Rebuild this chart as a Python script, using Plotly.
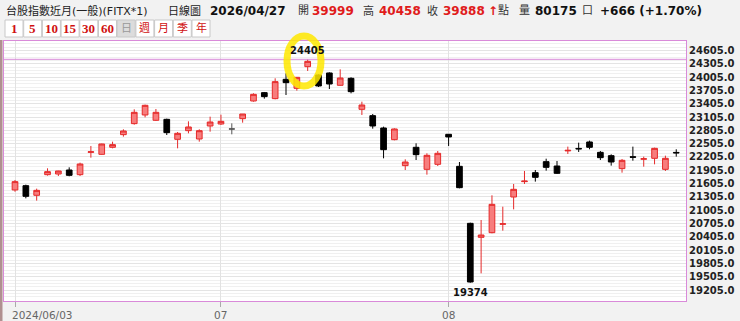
import plotly.graph_objects as go

# ---------------- data ----------------
dates = [
    "2024/06/03", "2024/06/04", "2024/06/05", "2024/06/06", "2024/06/07", "2024/06/11", "2024/06/12",
    "2024/06/13", "2024/06/14", "2024/06/17", "2024/06/18", "2024/06/19", "2024/06/20", "2024/06/21",
    "2024/06/24", "2024/06/25", "2024/06/26", "2024/06/27", "2024/06/28",
    "2024/07/01", "2024/07/02", "2024/07/03", "2024/07/04", "2024/07/05", "2024/07/08", "2024/07/09",
    "2024/07/10", "2024/07/11", "2024/07/12", "2024/07/15", "2024/07/16", "2024/07/17", "2024/07/18",
    "2024/07/19", "2024/07/22", "2024/07/23", "2024/07/26", "2024/07/29", "2024/07/30", "2024/07/31",
    "2024/08/01", "2024/08/02", "2024/08/05", "2024/08/06", "2024/08/07", "2024/08/08", "2024/08/09",
    "2024/08/12", "2024/08/13", "2024/08/14", "2024/08/15", "2024/08/16", "2024/08/19", "2024/08/20",
    "2024/08/21", "2024/08/22", "2024/08/23", "2024/08/26", "2024/08/27", "2024/08/28", "2024/08/29",
    "2024/08/30",
]
opens = [
    21462, 21559, 21342, 21807, 21822, 21912, 21807, 22310, 22265, 22423, 22708, 22956, 23151, 23031,
    23053, 22603, 22798, 22610, 22903,
    22948, 22836, 23068, 23466, 23654, 23519, 23954, 23751, 24239, 24052, 24097, 23819, 23977, 23278,
    23136, 22858, 22595, 22010, 22423, 21927, 22040,
    22716, 21995, 20711, 20396, 20501, 20690, 21304, 21650, 21852, 22100, 22002, 22342, 22398, 22543,
    22310, 22235, 21943, 22210, 22155, 22175, 21927, 22308,
]
highs = [
    21687, 21582, 21492, 21950, 21895, 21972, 22077, 22453, 22505, 22550, 22828, 23278, 23384, 23286,
    23068, 22768, 23008, 22828, 23113,
    23158, 22963, 23173, 23639, 23669, 23977, 24089, 24005, 24405, 24067, 24112, 24179, 23999, 23451,
    23173, 22888, 22851, 22152, 22513, 22288, 22340,
    22720, 22092, 20726, 20786, 21342, 21086, 21597, 21890, 21912, 22167, 22115, 22438, 22528, 22573,
    22340, 22265, 22160, 22438, 22213, 22415, 22235, 22378,
]
lows = [
    21423, 21274, 21222, 21785, 21777, 21770, 21777, 22190, 22258, 22400, 22663, 22933, 23098, 23016,
    22700, 22400, 22738, 22550, 22775,
    22926, 22715, 22978, 23451, 23519, 23504, 23601, 23699, 24142, 23781, 23736, 23812, 23639, 23151,
    22843, 22175, 22580, 21912, 22137, 21807, 22002,
    22453, 21499, 19374, 19585, 20486, 20546, 21026, 21597, 21650, 21897, 21822, 22273, 22318, 22378,
    22137, 22010, 21852, 22122, 21987, 22040, 21890, 22213,
]
closes = [
    21650, 21319, 21454, 21875, 21890, 21792, 22047, 22322, 22498, 22483, 22791, 23211, 23369, 23211,
    22753, 22738, 22881, 22798, 22993,
    23008, 22836, 23173, 23616, 23564, 23902, 23879, 23999, 24359, 23804, 23849, 23984, 23676, 23376,
    22903, 22370, 22836, 22092, 22258, 22243, 22288,
    22656, 21514, 19390, 20448, 21139, 20700, 21477, 21662, 21747, 21972, 21837, 22355, 22388, 22423,
    22190, 22092, 22130, 22200, 22165, 22400, 22175, 22298,
]

x_tick_dates = ["2024/06/03", "2024/07/01", "2024/08/01"]
x_tick_text = ["2024/06/03", "07", "08"]

y_ticks = [19205, 19505, 19805, 20105, 20405, 20705, 21005, 21305, 21605, 21905,
           22205, 22505, 22805, 23105, 23405, 23705, 24005, 24305, 24605]
y_tick_text = [f"{v:.1f}" for v in y_ticks]

header_title = "台股指數近月(一般)(FITX*1)"
header_period = "日線圖"
header_date = "2026/04/27"
header_open = 39999
header_high = 40458
header_close = 39888
header_volume = 80175
header_change = "+666 (+1.70%)"
period_buttons = ["1", "5", "10", "15", "30", "60", "日", "週", "月", "季", "年"]
selected_button = "日"

# ---------------- styling ----------------
RED_LINE = "#E52A2A"
RED_FILL = "#F77D7D"
MAGENTA = "#D98AD9"
BG = "#F2F2F2"
FONT = "DejaVu Sans, Noto Sans CJK TC, sans-serif"

# plot area in pixels (for decorative layout placement)
PL, PR, PT, PB = 4, 686, 41, 301
W, H = 740, 321


def px(xp):
    return (xp - PL) / (PR - PL)


def py(yp):
    return (PB - yp) / (PB - PT)


neutral = [o == c for o, c in zip(opens, closes)]
idx_main = [i for i in range(len(dates)) if not neutral[i]]
idx_neu = [i for i in range(len(dates)) if neutral[i]]

fig = go.Figure()
fig.add_trace(go.Candlestick(
    x=[dates[i] for i in idx_main],
    open=[opens[i] for i in idx_main],
    high=[highs[i] for i in idx_main],
    low=[lows[i] for i in idx_main],
    close=[closes[i] for i in idx_main],
    increasing=dict(line=dict(color=RED_LINE, width=1), fillcolor=RED_FILL),
    decreasing=dict(line=dict(color="#000000", width=1), fillcolor="#000000"),
    whiskerwidth=0,
    showlegend=False,
    hoverinfo="skip",
))
if idx_neu:
    fig.add_trace(go.Candlestick(
        x=[dates[i] for i in idx_neu],
        open=[opens[i] for i in idx_neu],
        high=[highs[i] for i in idx_neu],
        low=[lows[i] for i in idx_neu],
        close=[closes[i] for i in idx_neu],
        increasing=dict(line=dict(color="#555555", width=1), fillcolor="#555555"),
        decreasing=dict(line=dict(color="#555555", width=1), fillcolor="#555555"),
        whiskerwidth=0,
        showlegend=False,
        hoverinfo="skip",
    ))

i_hi = highs.index(max(highs))
i_lo = lows.index(min(lows))

annotations = []
# high / low labels
annotations.append(dict(x=dates[i_hi], y=highs[i_hi], xref="x", yref="y", text=str(highs[i_hi]),
                        showarrow=False, yanchor="bottom", yshift=1,
                        font=dict(family=FONT, size=10, color="#111", weight="bold")))
annotations.append(dict(x=dates[i_lo], y=lows[i_lo], xref="x", yref="y", text=str(lows[i_lo]),
                        showarrow=False, yanchor="top", yshift=-2,
                        font=dict(family=FONT, size=10, color="#111", weight="bold")))

# x tick labels
for k, (d, t) in enumerate(zip(x_tick_dates, x_tick_text)):
    annotations.append(dict(x=d, y=0, xref="x", yref="paper", text=t, showarrow=False,
                            xanchor="left" if k == 0 else "center", xshift=-5 if k == 0 else 0,
                            yanchor="top", yshift=-6,
                            font=dict(family=FONT, size=10.5, color="#666")))

# header pieces: (text, left px, size, color, bold)
header = [
    (header_title, 4, 11, "#222", False),
    (header_period, 166, 11, "#222", False),
    (header_date, 208, 12, "#111", True),
    ("開", 296, 11, "#333", False),
    (str(header_open), 310, 12, "#E01B1B", True),
    ("高", 361, 11, "#333", False),
    (str(header_high), 377, 12, "#E01B1B", True),
    ("收", 425, 11, "#333", False),
    (str(header_close), 441, 12, "#E01B1B", True),
    ("↑", 486, 12, "#E01B1B", True),
    ("點", 496, 11, "#333", False),
    ("量", 517, 11, "#333", False),
    (str(header_volume), 533, 12, "#111", True),
    ("口", 580, 11, "#333", False),
    (header_change, 598, 12, "#111", True),
]
for text, xl, size, color, bold in header:
    annotations.append(dict(x=px(xl), y=py(11), xref="paper", yref="paper", text=text,
                            showarrow=False, xanchor="left", yanchor="middle",
                            font=dict(family=FONT, size=size, color=color,
                                      weight="bold" if bold else "normal")))

shapes = []
# period buttons
for k, lab in enumerate(period_buttons):
    x0 = 5 + k * 18.7
    sel = lab == selected_button
    shapes.append(dict(type="rect", xref="paper", yref="paper", x0=px(x0), x1=px(x0 + 18),
                       y0=py(37), y1=py(20), line=dict(color="#C8C8C8", width=1),
                       fillcolor="#DCDCDC" if sel else "white", layer="above"))
    is_num = lab.isdigit()
    annotations.append(dict(x=px(x0 + 9), y=py(28.5), xref="paper", yref="paper", text=lab,
                            showarrow=False, xanchor="center", yanchor="middle",
                            font=dict(family="Liberation Serif, serif" if is_num else FONT,
                                      size=13 if is_num else 11,
                                      color="#999" if sel else "#D01010",
                                      weight="bold" if is_num else "normal")))

# line at the period high
shapes.append(dict(type="line", xref="paper", yref="y", x0=0, x1=1, y0=max(highs), y1=max(highs),
                   line=dict(color=MAGENTA, width=1), layer="above"))
# yellow highlight ring around the high label
shapes.append(dict(type="circle", xref="paper", yref="paper", x0=px(287), x1=px(321),
                   y0=py(86), y1=py(36), line=dict(color="#FFE800", width=7),
                   opacity=0.85, layer="above"))
# dark window edge at far left
shapes.append(dict(type="rect", xref="paper", yref="paper", x0=px(0), x1=px(2.5),
                   y0=py(321), y1=py(40), line=dict(width=0), fillcolor="#B09090", layer="above"))

fig.update_layout(
    width=W, height=H,
    margin=dict(l=PL, r=W - PR, t=PT, b=H - PB, pad=0),
    paper_bgcolor=BG, plot_bgcolor="white",
    font=dict(family=FONT),
    showlegend=False,
    annotations=annotations,
    shapes=shapes,
    boxgap=0.25,
    xaxis=dict(
        type="category", categoryorder="array", categoryarray=dates,
        range=[-1.015, 61.9],
        tickmode="array", tickvals=x_tick_dates, showticklabels=False,
        ticks="outside", ticklen=5, tickcolor="#AAAAAA",
        showgrid=True, gridcolor="#E2E2E2", gridwidth=1,
        showline=True, linecolor=MAGENTA, linewidth=1, mirror=True,
        zeroline=False, rangeslider=dict(visible=False), fixedrange=True,
    ),
    yaxis=dict(
        side="right", range=[18962, 24817],
        tickmode="array", tickvals=y_ticks, ticktext=y_tick_text,
        tickfont=dict(family=FONT, size=10, color="#222", weight="bold"),
        ticks="", showgrid=True, gridcolor="#E4E4E4", gridwidth=1,
        minor=dict(tickmode="linear", tick0=19205, dtick=75, showgrid=True,
                   gridcolor="#F0F0F0", ticks=""),
        showline=True, linecolor=MAGENTA, linewidth=1, mirror=True,
        zeroline=False, fixedrange=True,
    ),
)

fig.write_html("out.html")
